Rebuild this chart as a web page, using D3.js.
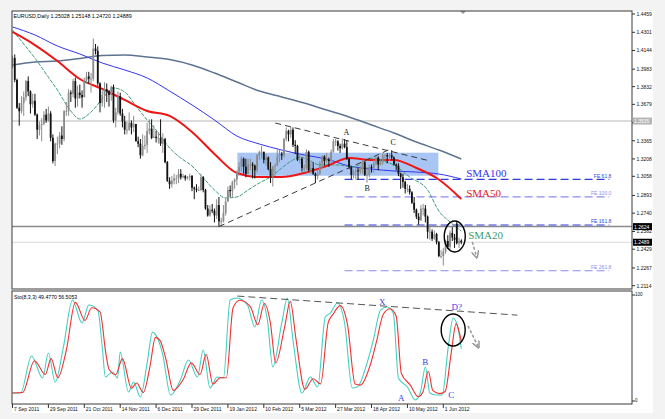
<!DOCTYPE html>
<html><head><meta charset="utf-8">
<script src="https://cdn.jsdelivr.net/npm/d3@7"></script>
<style>
body{margin:0;background:#f3f3f3;}
svg{display:block;font-family:"Liberation Sans",Arial,sans-serif;}
</style></head><body>
<svg id="c" width="665" height="419"></svg>
<script>
// ---------- DATA ----------
const opens=[
1.4000,1.4080,1.3890,1.3650,1.3620,1.3690,1.3740,1.3880,1.3790,1.3680,
1.3710,1.3590,1.3460,1.3500,1.3510,1.3590,1.3540,1.3600,1.3390,1.3190,
1.3340,1.3340,1.3410,1.3380,1.3620,1.3620,1.3780,1.3770,1.3880,1.3730,
1.3780,1.3760,1.3740,1.3890,1.3920,1.3900,1.3900,1.4160,1.4140,1.3860,
1.3690,1.3760,1.3810,1.3790,1.3760,1.3830,1.3540,1.3610,1.3750,1.3600,
1.3530,1.3460,1.3460,1.3520,1.3480,1.3510,1.3360,1.3340,1.3240,1.3320,
1.3330,1.3450,1.3470,1.3390,1.3400,1.3390,1.3390,1.3340,1.3380,1.3180,
1.3020,1.2990,1.3020,1.3040,1.3040,1.3080,1.3050,1.3060,1.3040,1.3050,
1.3060,1.2960,1.2950,1.2940,1.2940,1.3050,1.2940,1.2780,1.2720,1.2770,
1.2760,1.2720,1.2810,1.2670,1.2670,1.2740,1.2840,1.2940,1.2930,1.3010,
1.3030,1.3100,1.3140,1.3210,1.3140,1.3080,1.3160,1.3160,1.3150,1.3110,
1.3240,1.3270,1.3270,1.3200,1.3220,1.3120,1.3060,1.3140,1.3150,1.3230,
1.3250,1.3240,1.3380,1.3450,1.3420,1.3460,1.3330,1.3320,1.3200,1.3210,
1.3130,1.3130,1.3270,1.3110,1.3130,1.3080,1.3060,1.3080,1.3170,1.3230,
1.3190,1.3200,1.3190,1.3270,1.3360,1.3360,1.3320,1.3300,1.3340,1.3310,
1.3210,1.3140,1.3070,1.3100,1.3110,1.3100,1.3130,1.3180,1.3070,1.3070,
1.3140,1.3130,1.3170,1.3220,1.3160,1.3180,1.3240,1.3240,1.3230,1.3240,
1.3220,1.3160,1.3150,1.3080,1.3050,1.3010,1.2950,1.2950,1.2920,1.2830,
1.2770,1.2710,1.2680,1.2780,1.2780,1.2710,1.2580,1.2580,1.2520,1.2560,
1.2490,1.2370,1.2370,1.2410,1.2500,1.2450,1.2570,1.2530,1.2650,1.2480,
1.25028];
const highs=[
1.4100,1.4110,1.3900,1.3690,1.3750,1.3790,1.3890,1.3920,1.3800,1.3770,
1.3770,1.3600,1.3530,1.3560,1.3620,1.3640,1.3660,1.3620,1.3420,1.3350,
1.3400,1.3440,1.3490,1.3630,1.3700,1.3810,1.3800,1.3900,1.3910,1.3840,
1.3850,1.3800,1.3910,1.3960,1.3960,1.3950,1.4247,1.4200,1.4180,1.3870,
1.3800,1.3870,1.3860,1.3800,1.3840,1.3850,1.3650,1.3790,1.3780,1.3640,
1.3580,1.3530,1.3610,1.3540,1.3580,1.3510,1.3400,1.3380,1.3420,1.3410,
1.3520,1.3550,1.3550,1.3500,1.3450,1.3440,1.3550,1.3430,1.3390,1.3190,
1.3050,1.3060,1.3080,1.3070,1.3120,1.3120,1.3080,1.3070,1.3060,1.3080,
1.3070,1.2970,1.2990,1.2970,1.3080,1.3060,1.2950,1.2810,1.2810,1.2820,
1.2780,1.2860,1.2880,1.2700,1.2810,1.2870,1.2970,1.2980,1.3020,1.3040,
1.3110,1.3180,1.3230,1.3220,1.3210,1.3210,1.3210,1.3180,1.3160,1.3250,
1.3280,1.3320,1.3270,1.3250,1.3230,1.3180,1.3150,1.3170,1.3290,1.3290,
1.3270,1.3390,1.3480,1.3460,1.3486,1.3480,1.3370,1.3330,1.3250,1.3220,
1.3160,1.3290,1.3280,1.3180,1.3180,1.3090,1.3120,1.3190,1.3240,1.3240,
1.3260,1.3220,1.3290,1.3380,1.3380,1.3370,1.3340,1.3385,1.3380,1.3370,
1.3210,1.3150,1.3120,1.3140,1.3130,1.3150,1.3200,1.3190,1.3140,1.3160,
1.3160,1.3200,1.3230,1.3230,1.3210,1.3260,1.3250,1.3260,1.3260,1.3283,
1.3230,1.3170,1.3170,1.3090,1.3080,1.3020,1.2990,1.2980,1.2930,1.2880,
1.2780,1.2740,1.2810,1.2820,1.2810,1.2720,1.2620,1.2600,1.2590,1.2570,
1.2500,1.2420,1.2440,1.2510,1.2550,1.2590,1.2620,1.2560,1.2672,1.2530,
1.25148];
const lows=[
1.3990,1.3870,1.3640,1.3495,1.3600,1.3580,1.3710,1.3750,1.3600,1.3650,
1.3580,1.3380,1.3410,1.3360,1.3500,1.3520,1.3530,1.3360,1.3170,1.3146,
1.3250,1.3300,1.3330,1.3360,1.3580,1.3580,1.3700,1.3740,1.3650,1.3660,
1.3730,1.3650,1.3740,1.3860,1.3860,1.3780,1.3880,1.4110,1.3840,1.3610,
1.3660,1.3650,1.3700,1.3660,1.3710,1.3520,1.3480,1.3590,1.3580,1.3480,
1.3420,1.3420,1.3450,1.3420,1.3440,1.3360,1.3310,1.3210,1.3230,1.3290,
1.3260,1.3420,1.3380,1.3390,1.3350,1.3340,1.3320,1.3260,1.3170,1.3010,
1.2950,1.2960,1.2990,1.2990,1.3000,1.3030,1.3040,1.3020,1.3030,1.3020,
1.2930,1.2860,1.2920,1.2930,1.2930,1.2920,1.2770,1.2710,1.2710,1.2740,
1.2660,1.2690,1.2624,1.2630,1.2660,1.2720,1.2840,1.2880,1.2880,1.2950,
1.2980,1.3080,1.3100,1.3080,1.3050,1.3080,1.3110,1.3040,1.3040,1.3090,
1.3200,1.3210,1.3170,1.3150,1.3110,1.3000,1.2970,1.3060,1.3150,1.3180,
1.3200,1.3220,1.3360,1.3360,1.3390,1.3310,1.3250,1.3190,1.3170,1.3100,
1.3090,1.3110,1.3100,1.3080,1.3070,1.3000,1.3030,1.3070,1.3130,1.3150,
1.3170,1.3140,1.3170,1.3260,1.3320,1.3280,1.3260,1.3290,1.3300,1.3200,
1.3120,1.3030,1.3040,1.3030,1.3030,1.3080,1.3080,1.3060,1.3003,1.3050,
1.3090,1.3090,1.3150,1.3110,1.3150,1.3160,1.3190,1.3170,1.3190,1.3200,
1.3150,1.3110,1.3060,1.2950,1.2960,1.2910,1.2920,1.2900,1.2820,1.2740,
1.2690,1.2640,1.2670,1.2720,1.2660,1.2520,1.2510,1.2500,1.2510,1.2470,
1.2360,1.2350,1.2288,1.2390,1.2430,1.2430,1.2500,1.2440,1.2470,1.2440,
1.24720];
const closes=[
1.4080,1.3890,1.3650,1.3620,1.3690,1.3740,1.3880,1.3790,1.3680,1.3710,
1.3590,1.3460,1.3500,1.3510,1.3590,1.3540,1.3600,1.3390,1.3190,1.3340,
1.3340,1.3410,1.3380,1.3620,1.3620,1.3780,1.3770,1.3880,1.3730,1.3780,
1.3760,1.3740,1.3890,1.3920,1.3900,1.3900,1.4160,1.4140,1.3860,1.3690,
1.3760,1.3810,1.3790,1.3760,1.3830,1.3540,1.3610,1.3750,1.3600,1.3530,
1.3460,1.3460,1.3520,1.3480,1.3510,1.3360,1.3340,1.3240,1.3320,1.3330,
1.3450,1.3470,1.3390,1.3400,1.3390,1.3390,1.3340,1.3380,1.3180,1.3020,
1.2990,1.3020,1.3040,1.3040,1.3080,1.3050,1.3060,1.3040,1.3050,1.3060,
1.2960,1.2950,1.2940,1.2940,1.3050,1.2940,1.2780,1.2720,1.2770,1.2760,
1.2720,1.2810,1.2670,1.2670,1.2740,1.2840,1.2940,1.2930,1.3010,1.3030,
1.3100,1.3140,1.3210,1.3140,1.3080,1.3160,1.3160,1.3150,1.3110,1.3240,
1.3270,1.3270,1.3200,1.3220,1.3120,1.3060,1.3140,1.3150,1.3230,1.3250,
1.3240,1.3380,1.3450,1.3420,1.3460,1.3330,1.3320,1.3200,1.3210,1.3130,
1.3130,1.3270,1.3110,1.3130,1.3080,1.3060,1.3080,1.3170,1.3230,1.3190,
1.3200,1.3190,1.3270,1.3360,1.3360,1.3320,1.3300,1.3340,1.3310,1.3210,
1.3140,1.3070,1.3100,1.3110,1.3100,1.3130,1.3180,1.3070,1.3070,1.3140,
1.3130,1.3170,1.3220,1.3160,1.3180,1.3240,1.3240,1.3230,1.3240,1.3220,
1.3160,1.3150,1.3080,1.3050,1.3010,1.2950,1.2950,1.2920,1.2830,1.2770,
1.2710,1.2680,1.2780,1.2780,1.2710,1.2580,1.2580,1.2520,1.2560,1.2490,
1.2370,1.2370,1.2410,1.2500,1.2450,1.2570,1.2530,1.2510,1.2480,1.2500,
1.24889];

// moving averages (bar index -> price)
const smaIdx=[0,10,20,30,40,50,60,70,80,90,100,110,120,130,140,150,160,170,180,190,200];
const sma200=[1.4019,1.4045,1.4053,1.4075,1.4101,1.4105,1.4088,1.4066,1.4019,1.3950,1.3872,1.3794,1.3743,1.3691,1.3630,1.3570,1.3501,1.3432,1.3354,1.3285,1.3208];
const sma100=[1.4347,1.4278,1.4183,1.4114,1.4036,1.3976,1.3907,1.3794,1.3674,1.3544,1.3406,1.3337,1.3285,1.3242,1.3207,1.3147,1.3121,1.3104,1.3095,1.3078,1.3035];
const sma50=[1.4304,1.4191,1.4053,1.3898,1.3812,1.3717,1.3622,1.3579,1.3441,1.3251,1.3087,1.3052,1.3052,1.3087,1.3147,1.3216,1.3199,1.3199,1.3130,1.3031,1.2862];
const sma20Idx=[0,5,10,15,20,25,30,35,40,45,50,55,60,65,70,75,80,85,90,95,100,105,110,115,120,125,128,132,137,145,152,160,165,170,177,185,190,195,200];
const sma20=[1.4321,1.4200,1.4079,1.3941,1.3803,1.3648,1.3553,1.3613,1.3725,1.3820,1.3786,1.3665,1.3544,1.3432,1.3303,1.3216,1.3147,1.3044,1.2940,1.2871,1.2880,1.2940,1.3001,1.3052,1.3130,1.3199,1.3225,1.3199,1.3156,1.3156,1.3139,1.3216,1.3190,1.3156,1.3052,1.2940,1.2759,1.2664,1.2586];

// stochastic (8,3,3) turning points
const kIdx=[0,3.6,8.5,13.4,16,19,22.7,26.7,31,34,38,40,41.4,44.5,46.8,48,51.7,54,57,60,62.4,64.6,67,70.4,74.8,78.4,82.4,85,88,91.3,94,97,100,104.7,108,111,113.6,116,120,122.5,125,129,132.7,136,139.4,141.6,144.8,148,151.4,153.7,158,160.8,164,167,169.7,172,176,179.5,181.7,184,186,189,191.5,194.2,196.4,198.7,200];
const kVal=[7.5,7.5,42.5,21.7,45.3,17.9,51,95.3,73.6,90.6,85.8,51,22.6,27.4,21.7,46.2,8.5,17.9,3.8,35.8,65,59.4,43.4,5.7,19.8,38.7,22.6,48.1,12.3,22.6,21.7,95.3,97.2,90.6,69.8,95.3,76.4,32.1,73.6,97.2,57.5,7.5,22.6,13.2,79.2,83,92.5,73.6,12.3,13.2,35.8,57.5,85.8,88.7,83,21.7,13.2,1,7.5,32.1,7.5,5.7,5.7,51,78.3,67,49.48];
const dIdx=[0,4.5,9.8,14.6,17.2,20.2,24,28,32.3,35.3,39,41.6,43,46,49,53,55.3,58.3,61.3,63.7,65.8,68.3,71.7,76,79.7,83.6,86.3,89.3,92.6,95.3,98.3,101.3,106,109.3,112.3,114.9,117.3,121.3,123.8,126.3,130.3,134,137.3,140.7,142.9,146.1,149.3,152.7,155,159.3,162.1,165.3,168.3,171,173.3,177.3,180.8,183,185.3,187.3,190.3,192.8,195.5,197.7,199.2,200];
const dVal=[7.5,8,38,25,40,22,48,93,76,88,84,45,30,25,40,12,17,8,33,60,57,40,10,20,36,25,44,16,22,22,88,95,89,72,92,74,36,70,94,59,11,21,16,74,82,90,72,16,15,33,55,82,87,80,26,15,4,9,28,10,7,9,45,73,64,56.51];

// axes
const dateIdx=[0,16,32,48,64,80,96,112,128,144,160,176,192];
const dateLabels=["7 Sep 2011","29 Sep 2011","21 Oct 2011","14 Nov 2011","6 Dec 2011","29 Dec 2011","19 Jan 2012","10 Feb 2012","5 Mar 2012","27 Mar 2012","18 Apr 2012","10 May 2012","1 Jun 2012"];
const priceTicks=[1.4459,1.4301,1.4144,1.3983,1.3832,1.3679,1.3520,1.3365,1.3208,1.3058,1.2893,1.2740,1.2582,1.2429,1.2267,1.2114];
const stochTicks=[100,0];

// levels
const fibLevels=[1.3032,1.2880,1.2638,1.2243];
const fibLabels=["FE 61.8","FE 100.0","FE 161.8","FE 261.8"];
const levelLines=[1.3535,1.2624,1.2489];
const levelLabels=["1.3535","1.2624","1.2489"];

// ---------- DRAW ----------
const W=665,H=419;
const svg=d3.select('#c');
svg.append('rect').attr('width',W).attr('height',H).attr('fill','#f3f3f3');
svg.append('rect').attr('x',12).attr('y',11).attr('width',641).attr('height',402).attr('fill','#fff');

const x=d3.scaleLinear().domain([0,276]).range([12.5,631.8]);
const y=d3.scaleLinear().domain([1.2114,1.4459]).range([285.7,14]);
const ys=d3.scaleLinear().domain([0,100]).range([401,295]);

const defs=svg.append('defs');
defs.append('clipPath').attr('id','cp').append('rect').attr('x',12).attr('y',11).attr('width',620).attr('height',278);
defs.append('clipPath').attr('id','cs').append('rect').attr('x',12).attr('y',291).attr('width',620).attr('height',113);
defs.append('marker').attr('id','arr').attr('viewBox','0 0 10 10').attr('refX',8).attr('refY',5)
  .attr('markerWidth',5).attr('markerHeight',5).attr('orient','auto')
  .append('path').attr('d','M0,0 L10,5 L0,10').attr('fill','none').attr('stroke','#999').attr('stroke-width',2);

const gp=svg.append('g').attr('clip-path','url(#cp)');

// blue rectangle (zone)
gp.append('rect').attr('x',x(100.2)).attr('y',y(1.3262)).attr('width',x(189.8)-x(100.2)).attr('height',y(1.3063)-y(1.3262))
  .attr('fill','#a9c5f3');

// horizontal levels
const lvlStyle=[{c:'#cfcfcf',w:1.5},{c:'#8a8a8a',w:1.5},{c:'#dadada',w:1}];
levelLines.forEach((v,i)=>{
  gp.append('line').attr('x1',12).attr('x2',632).attr('y1',y(v)).attr('y2',y(v))
    .attr('stroke',lvlStyle[i].c).attr('stroke-width',lvlStyle[i].w);
});

// fib lines
const fibCol=['#2f3fd8','#8a8af0','#2f3fd8','#8a8af0'];
fibLevels.forEach((v,i)=>{
  gp.append('line').attr('x1',x(148)).attr('x2',x(266)).attr('y1',y(v)).attr('y2',y(v))
    .attr('stroke',fibCol[i]).attr('stroke-width',1.2).attr('stroke-dasharray','8,4');
  gp.append('text').attr('x',x(266)+2).attr('y',y(v)-1.5).attr('text-anchor','end')
    .attr('font-size',5).attr('fill',fibCol[i]).text(fibLabels[i]);
});

// moving averages
const line=d3.line().x(d=>x(d[0])).y(d=>y(d[1])).curve(d3.curveMonotoneX);
const z=(ix,vs)=>ix.map((d,i)=>[d,vs[i]]);
gp.append('path').attr('d',line(z(smaIdx,sma200))).attr('fill','none').attr('stroke','#5d7390').attr('stroke-width',1.5);
gp.append('path').attr('d',line(z(smaIdx,sma100))).attr('fill','none').attr('stroke','#3434f2').attr('stroke-width',1);
gp.append('path').attr('d',line(z(sma20Idx,sma20))).attr('fill','none').attr('stroke','#3f9c74').attr('stroke-width',1).attr('stroke-dasharray','4,1.2');
gp.append('path').attr('d',line(z(smaIdx,sma50))).attr('fill','none').attr('stroke','#ee1515').attr('stroke-width',2);

// candles
const bars=d3.range(closes.length).map(i=>({i,o:opens[i],h:highs[i],l:lows[i],c:closes[i]}));
const col=d=>d.c>=d.o?'#8c8c8c':'#111';
gp.selectAll('line.wick').data(bars).join('line').attr('class','wick')
  .attr('x1',d=>x(d.i)).attr('x2',d=>x(d.i)).attr('y1',d=>y(d.h)).attr('y2',d=>y(d.l))
  .attr('stroke',col).attr('stroke-width',1);
gp.selectAll('rect.body').data(bars).join('rect').attr('class','body')
  .attr('x',d=>x(d.i)-0.9).attr('width',1.8)
  .attr('y',d=>y(Math.max(d.o,d.c))).attr('height',d=>Math.max(0.8,Math.abs(y(d.o)-y(d.c))))
  .attr('fill',col);

// trend lines
[[[117.1,1.3518],[186.2,1.3190]],[[92,1.2624],[167.5,1.3285]]].forEach(s=>{
  gp.append('line').attr('x1',x(s[0][0])).attr('y1',y(s[0][1])).attr('x2',x(s[1][0])).attr('y2',y(s[1][1]))
    .attr('stroke','#3a3a3a').attr('stroke-width',1).attr('stroke-dasharray','6,4');
});

// ellipse + arrow
gp.append('ellipse').attr('cx',x(197.1)).attr('cy',y(1.2539)).attr('rx',10.5).attr('ry',15.5)
  .attr('fill','none').attr('stroke','#000').attr('stroke-width',1.4);
gp.append('line').attr('x1',x(204.9)).attr('y1',y(1.2491)).attr('x2',x(206.9)).attr('y2',y(1.2362))
  .attr('stroke','#999').attr('stroke-width',1.5).attr('stroke-dasharray','3,2').attr('marker-end','url(#arr)');

// text annotations
const serif='"Liberation Serif","Times New Roman",serif';
[['A',148.8,1.3432],['B',158.1,1.2949],['C',169.7,1.3354]].forEach(a=>{
  gp.append('text').attr('x',x(a[1])).attr('y',y(a[2])).attr('text-anchor','middle').attr('dominant-baseline','central')
    .style('font-family',serif).attr('font-size',8).attr('fill','#222').text(a[0]);
});
[['SMA100',1.3087,'#3434f2'],['SMA50',1.2914,'#e61a1a'],['SMA20',1.2551,'#3f9c74']].forEach((a,i)=>{
  gp.append('text').attr('x',x(i==2?203.1:202.2)).attr('y',y(a[1])).attr('dominant-baseline','central')
    .style('font-family',serif).attr('font-size',11).attr('fill',a[2]).text(a[0]);
});

// title
svg.append('text').attr('x',13.5).attr('y',17.5).attr('font-size',5.3).attr('fill','#000')
  .text('EURUSD,Daily  1.25028 1.25148 1.24720 1.24889');
// shift marker
svg.append('path').attr('d','M460,11 L466,11 L463,14 Z').attr('fill','#9a9a9a');

// ---- stochastic ----
const gs=svg.append('g').attr('clip-path','url(#cs)');
const sl=d3.line().x(d=>x(d[0])).y(d=>ys(d[1])).curve(d3.curveMonotoneX);
gs.append('path').attr('d',sl(z(kIdx,kVal))).attr('fill','none').attr('stroke','#45cfc0').attr('stroke-width',1.1);
gs.append('path').attr('d',sl(z(dIdx,dVal))).attr('fill','none').attr('stroke','#f23030').attr('stroke-width',1.1);
gs.append('line').attr('x1',x(100.2)).attr('y1',ys(99)).attr('x2',x(225)).attr('y2',ys(81))
  .attr('stroke','#555').attr('stroke-width',1).attr('stroke-dasharray','7,4');
gs.append('ellipse').attr('cx',x(196.4)).attr('cy',ys(67)).attr('rx',12).attr('ry',16)
  .attr('fill','none').attr('stroke','#000').attr('stroke-width',1.4);
gs.append('line').attr('x1',x(203)).attr('y1',ys(70.8)).attr('x2',x(207.6)).attr('y2',ys(51))
  .attr('stroke','#999').attr('stroke-width',1.5).attr('stroke-dasharray','3,2').attr('marker-end','url(#arr)');
[['X',164.8,93.4],['D?',198,88.7],['B',184,36.8],['A',173.3,2.5],['C',195.5,5.7]].forEach(a=>{
  gs.append('text').attr('x',x(a[1])).attr('y',ys(a[2])).attr('text-anchor','middle').attr('dominant-baseline','central')
    .style('font-family',serif).attr('font-size',9).attr('fill','#3b3be6').text(a[0]);
});
svg.append('text').attr('x',14).attr('y',298.5).attr('font-size',5.2).attr('fill','#000').text('Sto(8,3,3) 49.4770 56.5053');

// frames
svg.append('rect').attr('x',12).attr('y',11).attr('width',620).attr('height',278).attr('fill','none').attr('stroke','#3a3a3a').attr('stroke-width',1);
svg.append('rect').attr('x',12).attr('y',291).attr('width',620).attr('height',113).attr('fill','none').attr('stroke','#3a3a3a').attr('stroke-width',1);

// price axis
const ax=svg.append('g');
priceTicks.forEach(v=>{
  ax.append('line').attr('x1',632).attr('x2',635).attr('y1',y(v)).attr('y2',y(v)).attr('stroke','#333');
  // labels hidden behind a level box (as in the reference) are not drawn
  const hidden=levelLines.some(l=>Math.abs(y(l)-y(v))<3.5);
  if(!hidden) ax.append('text').attr('x',636.5).attr('y',y(v)).attr('dominant-baseline','central').attr('font-size',5).attr('fill','#111').text(v.toFixed(4));
});
const boxFill=['#b5b5b5','#000','#000'];
levelLines.forEach((v,i)=>{
  ax.append('rect').attr('x',633).attr('y',y(v)-3.5).attr('width',19).attr('height',7).attr('fill',boxFill[i]);
  ax.append('text').attr('x',634).attr('y',y(v)).attr('dominant-baseline','central').attr('font-size',5).attr('fill','#fff').text(levelLabels[i]);
});
stochTicks.forEach(v=>{
  ax.append('line').attr('x1',632).attr('x2',635).attr('y1',ys(v)).attr('y2',ys(v)).attr('stroke','#333');
  ax.append('text').attr('x',635).attr('y',ys(v)-0.5).attr('dominant-baseline','central').attr('font-size',4.5).attr('fill','#111').text(v);
});
// date axis
dateIdx.forEach((d,i)=>{
  ax.append('line').attr('x1',x(d)).attr('x2',x(d)).attr('y1',404).attr('y2',408).attr('stroke','#333');
  ax.append('text').attr('x',x(d)+1.5).attr('y',411).attr('font-size',5).attr('fill','#111').text(dateLabels[i]);
});
</script>
</body></html>
